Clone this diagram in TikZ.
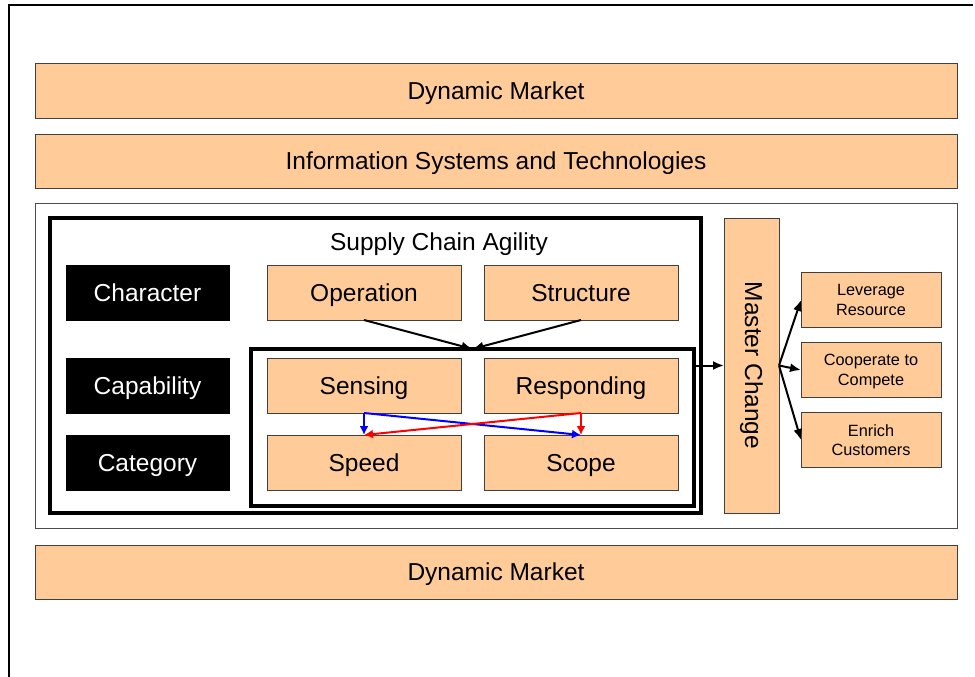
\documentclass[tikz,border=0pt]{standalone}
\usepackage{fontspec}
\setmainfont{Liberation Sans}
\usepackage{tikz}
\usetikzlibrary{arrows.meta, positioning}

\definecolor{peach}{RGB}{255,204,153}

\begin{document}
\begin{tikzpicture}[
    x=1pt, y=-1pt,
    orange/.style={rectangle, draw=black!75, fill=peach, line width=1pt, inner sep=0pt, outer sep=0pt,
        font=\fontsize{24.5}{28}\selectfont},
    box/.style={orange, minimum width=194pt, minimum height=55pt, text height=17.5pt, text depth=0pt},
    widebox/.style={box, minimum width=922pt, minimum height=54pt},
    darkbox/.style={box, fill=black, draw=black, text=white, minimum width=163pt},
    smallbox/.style={orange, minimum width=140pt, minimum height=55pt, align=center, text depth=0pt,
        font=\fontsize{16.3}{19.5}\selectfont},
    frame/.style={rectangle, draw=black, line width=3.5pt, inner sep=0pt, outer sep=0pt},
    arr/.style={line width=2pt, -{Latex[length=11pt,width=9pt]}},
    carr/.style={line width=2pt, -{Latex[length=9pt,width=9pt]}}
]
    \useasboundingbox (0,0) rectangle (975,677);
    \draw[line width=2.5pt] (9,677) -- (9,5) -- (973,5);

    \node[widebox] (market) at (496,91) {Dynamic Market};
    \node[widebox] (ist) at (496,161) {Information Systems and Technologies};
    \node[rectangle, draw=black!70, line width=1pt, fill=white, minimum width=922pt,
        minimum height=325pt, inner sep=0pt] (panel) at (496,365.5) {};
    \node[widebox] (market2) at (496,572) {Dynamic Market};

    \node[frame, minimum width=651pt, minimum height=295pt] (agility) at (375.5,365.5) {};
    \node[font=\fontsize{24.5}{28}\selectfont, text height=17.5pt, text depth=0pt] (title) at (439,242)
        {Supply Chain Agility};

    \node[darkbox] (character) at (147.5,292.5) {Character};
    \node[darkbox] (capability) at (147.5,385.5) {Capability};
    \node[darkbox] (category) at (147.5,462.5) {Category};

    \node[box] (operation) at (364,292.5) {Operation};
    \node[box] (structure) at (581,292.5) {Structure};

    \node[frame, minimum width=443pt, minimum height=157pt] (inner) at (472.5,427.5) {};
    \node[box] (sensing) at (364,385.5) {Sensing};
    \node[box] (responding) at (581,385.5) {Responding};
    \node[box] (speed) at (364,462.5) {Speed};
    \node[box] (scope) at (581,462.5) {Scope};

    \node[orange, minimum width=55pt, minimum height=295pt] (master) at (751.5,365.5)
        {\rotatebox{-90}{Master Change}};

    \node[smallbox] (leverage) at (871,300) {Leverage\\Resource};
    \node[smallbox] (cooperate) at (871,370) {Cooperate to\\Compete};
    \node[smallbox] (enrich) at (871,440) {Enrich\\Customers};

    \draw[arr] (operation.south) -- (inner.north);
    \draw[arr] (structure.south) -- (inner.north);
    \draw[arr] (master.west -| inner.east) -- (master.west);
    \draw[arr] (master.east) -- (leverage.west);
    \draw[arr] (master.east) -- (cooperate.west);
    \draw[arr] (master.east) -- (enrich.west);

    \draw[carr, blue] (sensing.south) -- (speed.north);
    \draw[carr, blue] (sensing.south) -- (scope.north);
    \draw[carr, red] (responding.south) -- (scope.north);
    \draw[carr, red] (responding.south) -- (speed.north);
\end{tikzpicture}
\end{document}
